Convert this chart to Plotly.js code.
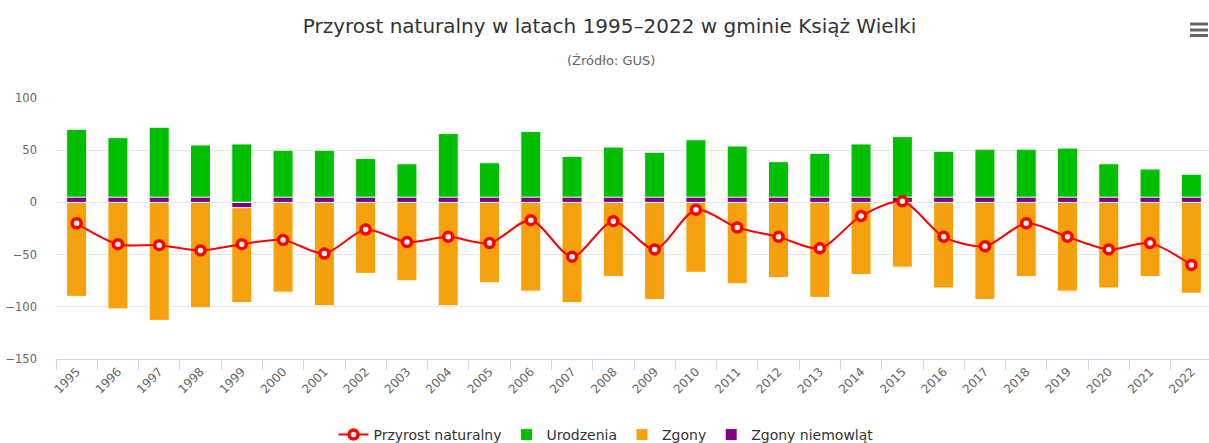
<!DOCTYPE html>
<html>
<head>
<meta charset="utf-8">
<script src="https://cdn.plot.ly/plotly-3.0.1.min.js"></script>
<style>
html, body { margin: 0; padding: 0; overflow: hidden; background: #fff; }
#chart { width: 1212px; height: 443px; }
</style>
</head>
<body>
<div id="chart"></div>
<script>
// ---- data ----
const years = ['1995','1996','1997','1998','1999','2000','2001','2002','2003','2004','2005','2006','2007','2008',
               '2009','2010','2011','2012','2013','2014','2015','2016','2017','2018','2019','2020','2021','2022'];
const urodzenia = [70, 62, 72, 55, 56, 50, 50, 42, 37, 66, 38, 68, 44, 53, 48, 60, 54, 39, 47, 56, 63, 49, 51, 51, 52, 37, 32, 27];
const zgony     = [-90, -102, -113, -101, -96, -86, -99, -68, -75, -99, -77, -85, -96, -71, -93, -67, -78, -72, -91, -69, -62, -82, -93, -71, -85, -82, -71, -87];
const zgonyNiemowlat = [0, 0, 0, 0, -1, 0, 0, 0, 0, 0, 0, 0, 0, 0, 0, 0, 0, 0, 0, 0, 0, 0, 0, 0, 0, 0, 0, 0];
const przyrost  = [-20, -40, -41, -46, -40, -36, -49, -26, -38, -33, -39, -17, -52, -18, -45, -7, -24, -33, -44, -13, 1, -33, -42, -20, -33, -45, -39, -60];

// ---- style ----
const MIN_POINT_LENGTH = 5; // like Highcharts minPointLength: small/zero columns still drawn
const niemowlatDrawn = zgonyNiemowlat.map(v => v === 0 ? MIN_POINT_LENGTH : (v > 0 ? Math.max(v, MIN_POINT_LENGTH) : -Math.max(-v, MIN_POINT_LENGTH)));

const font = 'DejaVu Sans, Verdana, sans-serif';
const W = 1212, H = 443;
const L = 56, R = 0, T = 98, B = 84;
const pw = W - L - R, ph = H - T - B;
const px = x => (x - L) / pw;
const py = y => (H - B - y) / ph;

const data = [
  {
    type: 'scatter', mode: 'lines+markers', name: 'Przyrost naturalny',
    x: years, y: przyrost,
    line: { color: '#ff0000', width: 2, shape: 'spline', smoothing: 0.8 },
    marker: { symbol: 'circle', size: 9, color: '#ffffff', line: { color: '#ff0000', width: 3.5 } }
  },
  {
    type: 'bar', name: 'Urodzenia', x: years, y: urodzenia,
    marker: { color: '#00bf00', line: { color: '#ffffff', width: 1 } }
  },
  {
    type: 'bar', name: 'Zgony', x: years, y: zgony,
    marker: { color: '#f5a00f', line: { color: '#ffffff', width: 1 } }
  },
  {
    type: 'bar', name: 'Zgony niemowląt', x: years, y: niemowlatDrawn,
    customdata: zgonyNiemowlat,
    hovertemplate: '%{x}: %{customdata}<extra>Zgony niemowląt</extra>',
    marker: { color: '#800080', line: { color: '#ffffff', width: 1 } }
  }
];

const menuLines = [24, 30, 35.5].map(y => ({
  type: 'line', xref: 'paper', yref: 'paper',
  x0: px(1190), x1: px(1208), y0: py(y), y1: py(y),
  line: { color: '#666666', width: 3 }
}));

const layout = {
  width: W, height: H,
  margin: { l: L, r: R, t: T, b: B, autoexpand: false },
  paper_bgcolor: '#ffffff', plot_bgcolor: '#ffffff',
  font: { family: font, color: '#666666', size: 11 },
  title: {
    text: 'Przyrost naturalny w latach 1995–2022 w gminie Książ Wielki',
    font: { family: font, size: 20, color: '#333333' },
    x: 609.5 / W, xanchor: 'center', xref: 'container',
    y: 1 - 26 / H, yanchor: 'middle', yref: 'container'
  },
  annotations: [{
    text: '(Źródło: GUS)', xref: 'paper', yref: 'paper',
    x: px(611), y: py(60), xanchor: 'center', yanchor: 'middle',
    showarrow: false, font: { family: font, size: 13, color: '#666666' }
  }],
  shapes: menuLines,
  barmode: 'overlay',
  bargap: 0.515,
  showlegend: true,
  legend: {
    orientation: 'h', x: px(606), xanchor: 'center', y: py(435), yanchor: 'middle',
    font: { family: font, size: 14, color: '#333333' },
    traceorder: 'normal', itemclick: false
  },
  xaxis: {
    type: 'category', tickangle: -45, range: [-0.5, 27.5],
    tickfont: { family: font, size: 12, color: '#666666' },
    showgrid: false, zeroline: false,
    showline: true, linecolor: '#ccd6eb', linewidth: 1,
    ticks: 'outside', tickson: 'boundaries', ticklen: 10, tickcolor: '#ccd6eb',
    fixedrange: true, automargin: false
  },
  yaxis: {
    range: [-150, 100], tickvals: [-150, -100, -50, 0, 50, 100],
    ticktext: ['−150', '−100', '−50', '0', '50', '100'],
    tickfont: { family: font, size: 11.5, color: '#666666' },
    showgrid: true, gridcolor: '#e6e6e6', gridwidth: 1,
    zeroline: true, zerolinecolor: '#e6e6e6', zerolinewidth: 1,
    showline: false, ticks: '', ticklabelstandoff: 18,
    fixedrange: true, automargin: false
  }
};

Plotly.newPlot('chart', data, layout, { displayModeBar: false, staticPlot: false });
</script>
</body>
</html>
